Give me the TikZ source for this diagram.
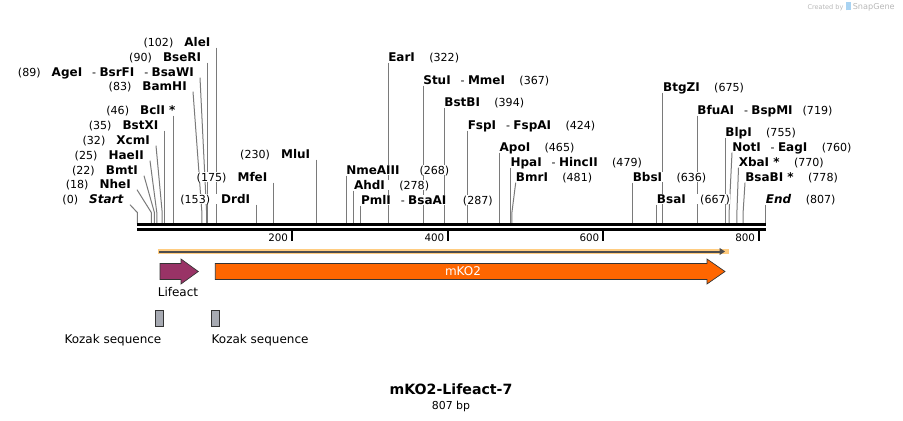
\documentclass[tikz,border=0pt]{standalone}
\usepackage{fontspec}
\setmainfont{DejaVu Sans}
\usepackage{xcolor}
\usepackage{tikz}
\usetikzlibrary{arrows.meta, positioning, backgrounds}
\definecolor{cutgray}{HTML}{7A7A7A}
\definecolor{lifeactpurple}{HTML}{993366}
\definecolor{mkoorange}{HTML}{FF6600}
\definecolor{glow}{HTML}{FFCC80}
\definecolor{dirgray}{HTML}{4D4D4D}
\definecolor{kozakgray}{HTML}{A7AAB2}
\definecolor{credgray}{HTML}{B8B8B8}
\definecolor{credblue}{HTML}{A9D3F2}
\newcommand{\enz}[1]{{\fontsize{9}{10}\selectfont\bfseries #1}}
\newcommand{\cutsep}{\hspace{0.9em}-\hspace{0.3em}}
\tikzstyle{sitelbl} = [font=\fontsize{8.3}{10}\selectfont, inner sep=0pt, text height=6.5pt, text depth=1pt, fill=white]
\tikzstyle{leftlbl} = [sitelbl, inner xsep=4.5pt, anchor=south east]
\tikzstyle{rightlbl} = [sitelbl, anchor=south west]
\tikzstyle{cutline} = [cutgray, line width=0.75pt]
\tikzstyle{strand} = [black, line width=2pt]
\tikzstyle{rulertick} = [black, line width=1.5pt]
\tikzstyle{ticklbl} = [font=\fontsize{7.75}{9}\selectfont, anchor=east, inner xsep=2.8pt, inner ysep=0pt]
\tikzstyle{featlbl} = [font=\fontsize{9}{11}\selectfont, inner sep=0pt]
\tikzstyle{featarrow} = [draw=black!80, line width=0.5pt]
\tikzstyle{kozakbox} = [rectangle, draw=black!80, fill=kozakgray, line width=0.5pt,
  minimum width=5.7pt, minimum height=12pt, inner sep=0pt]

\begin{document}
\begin{tikzpicture}[x=0.75pt, y=-0.75pt]
  \useasboundingbox (0,0) rectangle (903,421);

  % Credit
  \node (credit) [anchor=east, text=credgray, inner sep=0pt] at (895,7)
    {{\fontsize{4.9}{6}\selectfont Created by}\hspace{2pt}\textcolor{credblue}{\rule[-0.5pt]{3.5pt}{6pt}}\hspace{1.5pt}{\fontsize{6.1}{7}\selectfont SnapGene}};

  % Backbone (both strands)
  \coordinate (bbL) at (137.3,224.7);
  \coordinate (bbR) at (765.7,224.7);
  \draw[strand] (bbL) -- (bbR);
  \draw[strand] ([yshift=-3.45pt]bbL) -- ([yshift=-3.45pt]bbR);

  % Ruler
  \coordinate (t200) at (292,231);
  \coordinate (t400) at (448.3,231);
  \coordinate (t600) at (603.3,231);
  \coordinate (t800) at (759,231);
  \draw[rulertick] (t200) -- ++(0,10);
  \draw[rulertick] (t400) -- ++(0,10);
  \draw[rulertick] (t600) -- ++(0,10);
  \draw[rulertick] (t800) -- ++(0,10);
  \node (l200) [ticklbl] at ([yshift=-4.8pt]t200) {200};
  \node (l400) [ticklbl] at ([yshift=-4.8pt]t400) {400};
  \node (l600) [ticklbl] at ([yshift=-4.8pt]t600) {600};
  \node (l800) [ticklbl] at ([yshift=-4.8pt]t800) {800};

  % Cut sites on the top strand
  \coordinate (cStart) at (137.3,223.5);
  \coordinate (cNheI) at (151.3,223.5);
  \coordinate (cBmtI) at (154.4,223.5);
  \coordinate (cHaeII) at (156.8,223.5);
  \coordinate (cXcmI) at (162.2,223.5);
  \coordinate (cBstXI) at (164.6,223.5);
  \coordinate (cBclI) at (173.1,223.5);
  \coordinate (cBamHI) at (201.9,223.5);
  \coordinate (cAgeI) at (206.6,223.5);
  \coordinate (cBseRI) at (207.4,223.5);
  \coordinate (cAleI) at (216.7,223.5);
  \coordinate (cDrdI) at (256.4,223.5);
  \coordinate (cMfeI) at (273.6,223.5);
  \coordinate (cMluI) at (316.4,223.5);
  \coordinate (cNmeAIII) at (346,223.5);
  \coordinate (cAhdI) at (353.8,223.5);
  \coordinate (cPmlI) at (360.8,223.5);
  \coordinate (cEarI) at (388,223.5);
  \coordinate (cStuI) at (423.1,223.5);
  \coordinate (cBstBI) at (444.1,223.5);
  \coordinate (cFspI) at (467.5,223.5);
  \coordinate (cApoI) at (499.4,223.5);
  \coordinate (cHpaI) at (510.3,223.5);
  \coordinate (cBmrI) at (511.9,223.5);
  \coordinate (cBbsI) at (632.5,223.5);
  \coordinate (cBsaI) at (656.7,223.5);
  \coordinate (cBtgZI) at (662.9,223.5);
  \coordinate (cBfuAI) at (697.2,223.5);
  \coordinate (cBlpI) at (725.2,223.5);
  \coordinate (cNotI) at (729.1,223.5);
  \coordinate (cXbaI) at (736.9,223.5);
  \coordinate (cBsaBI) at (743.1,223.5);
  \coordinate (cEnd) at (765.7,223.5);

  % Left hand labels
  \node (AleI) [leftlbl] at (216.7,47.7) {(102)\quad\enz{AleI}};
  \node (BseRI) [leftlbl] at (207.4,62.7) {(90)\quad\enz{BseRI}};
  \node (AgeI) [leftlbl] at (200,77.7) {(89)\quad\enz{AgeI}\cutsep\enz{BsrFI}\cutsep\enz{BsaWI}};
  \node (BamHI) [leftlbl] at (193,91.7) {(83)\quad\enz{BamHI}};
  \node (BclI) [leftlbl] at (181.7,115.7) {(46)\quad\enz{BclI *}};
  \node (BstXI) [leftlbl] at (164.6,130.7) {(35)\quad\enz{BstXI}};
  \node (XcmI) [leftlbl] at (156,145.7) {(32)\quad\enz{XcmI}};
  \node (HaeII) [leftlbl] at (150,160.7) {(25)\quad\enz{HaeII}};
  \node (BmtI) [leftlbl] at (144,175.7) {(22)\quad\enz{BmtI}};
  \node (NheI) [leftlbl] at (137,189.7) {(18)\quad\enz{NheI}};
  \node (Start) [leftlbl] at (130,204.7) {(0)\quad\textit{\enz{Start}}};
  \node (DrdI) [leftlbl] at (256.4,204.7) {(153)\quad\enz{DrdI}};
  \node (MfeI) [leftlbl] at (273.6,182.7) {(175)\quad\enz{MfeI}};
  \node (MluI) [leftlbl] at (316.4,159.7) {(230)\quad\enz{MluI}};

  % Right hand labels
  \node (NmeAIII) [rightlbl] at (346,175.7) {\enz{NmeAIII}\hspace{1.8em}(268)};
  \node (AhdI) [rightlbl] at (353.8,190.7) {\enz{AhdI}\hspace{1.3em}(278)};
  \node (PmlI) [rightlbl] at (360.8,205.7) {\enz{PmlI}\cutsep\enz{BsaAI}\hspace{1.5em}(287)};
  \node (EarI) [rightlbl] at (388,62.7) {\enz{EarI}\hspace{1.3em}(322)};
  \node (StuI) [rightlbl] at (423.1,85.7) {\enz{StuI}\cutsep\enz{MmeI}\hspace{1.3em}(367)};
  \node (BstBI) [rightlbl] at (444.1,107.7) {\enz{BstBI}\hspace{1.3em}(394)};
  \node (FspI) [rightlbl] at (467.5,130.7) {\enz{FspI}\cutsep\enz{FspAI}\hspace{1.3em}(424)};
  \node (ApoI) [rightlbl] at (499.4,152.7) {\enz{ApoI}\hspace{1.3em}(465)};
  \node (HpaI) [rightlbl] at (510.3,167.7) {\enz{HpaI}\cutsep\enz{HincII}\hspace{1.3em}(479)};
  \node (BmrI) [rightlbl] at (515.7,182.7) {\enz{BmrI}\hspace{1.3em}(481)};
  \node (BbsI) [rightlbl] at (632.5,182.7) {\enz{BbsI}\hspace{1.3em}(636)};
  \node (BsaI) [rightlbl] at (656.7,204.7) {\enz{BsaI}\hspace{1.3em}(667)};
  \node (BtgZI) [rightlbl] at (662.9,92.7) {\enz{BtgZI}\hspace{1.3em}(675)};
  \node (BfuAI) [rightlbl] at (697.2,115.7) {\enz{BfuAI}\cutsep\enz{BspMI}\hspace{0.9em}(719)};
  \node (BlpI) [rightlbl] at (725.2,137.7) {\enz{BlpI}\hspace{1.3em}(755)};
  \node (NotI) [rightlbl] at (732,152.7) {\enz{NotI}\cutsep\enz{EagI}\hspace{1.3em}(760)};
  \node (XbaI) [rightlbl] at (738.5,167.7) {\enz{XbaI *}\hspace{1.3em}(770)};
  \node (BsaBI) [rightlbl] at (745,182.7) {\enz{BsaBI *}\hspace{1.3em}(778)};
  \node (End) [rightlbl] at (765.7,204.7) {\textit{\enz{End}}\hspace{1.3em}(807)};

  % Cut lines, behind the labels
  \begin{scope}[on background layer]
    \draw[cutline] (Start.south east) -- ([yshift=8.25pt]cStart) -- (cStart);
    \draw[cutline] (NheI.south east) -- ([yshift=8.25pt]cNheI) -- (cNheI);
    \draw[cutline] (BmtI.south east) -- ([yshift=8.25pt]cBmtI) -- (cBmtI);
    \draw[cutline] (HaeII.south east) -- ([yshift=8.25pt]cHaeII) -- (cHaeII);
    \draw[cutline] (XcmI.south east) -- ([yshift=8.25pt]cXcmI) -- (cXcmI);
    \draw[cutline] (BstXI.south east) -- (cBstXI);
    \draw[cutline] (cBclI |- BclI.south) -- (cBclI);
    \draw[cutline] (BamHI.south east) -- ([yshift=8.25pt]cBamHI) -- (cBamHI);
    \draw[cutline] (AgeI.south east) -- ([yshift=8.25pt]cAgeI) -- (cAgeI);
    \draw[cutline] (BseRI.south east) -- (cBseRI);
    \draw[cutline] (AleI.south east) -- (cAleI);
    \draw[cutline] (DrdI.south east) -- (cDrdI);
    \draw[cutline] (MfeI.south east) -- (cMfeI);
    \draw[cutline] (MluI.south east) -- (cMluI);
    \draw[cutline] (NmeAIII.south west) -- (cNmeAIII);
    \draw[cutline] (AhdI.south west) -- (cAhdI);
    \draw[cutline] (PmlI.south west) -- (cPmlI);
    \draw[cutline] (EarI.south west) -- (cEarI);
    \draw[cutline] (StuI.south west) -- (cStuI);
    \draw[cutline] (BstBI.south west) -- (cBstBI);
    \draw[cutline] (FspI.south west) -- (cFspI);
    \draw[cutline] (ApoI.south west) -- (cApoI);
    \draw[cutline] (HpaI.south west) -- (cHpaI);
    \draw[cutline] (BmrI.south west) -- ([yshift=8.25pt]cBmrI) -- (cBmrI);
    \draw[cutline] (BbsI.south west) -- (cBbsI);
    \draw[cutline] (BsaI.south west) -- (cBsaI);
    \draw[cutline] (BtgZI.south west) -- (cBtgZI);
    \draw[cutline] (BfuAI.south west) -- (cBfuAI);
    \draw[cutline] (BlpI.south west) -- (cBlpI);
    \draw[cutline] (NotI.south west) -- ([yshift=8.25pt]cNotI) -- (cNotI);
    \draw[cutline] (XbaI.south west) -- ([yshift=8.25pt]cXbaI) -- (cXbaI);
    \draw[cutline] (BsaBI.south west) -- ([yshift=8.25pt]cBsaBI) -- (cBsaBI);
    \draw[cutline] (End.south west) -- (cEnd);
  \end{scope}

  % Open reading frame
  \coordinate (orfL) at (159,251.5);
  \coordinate (orfR) at (725,251.5);
  \draw[glow, line width=4.2pt] ([xshift=-1pt]orfL) -- ([xshift=3pt]orfR);
  \draw[dirgray, line width=1.5pt, -{Triangle[length=4pt, width=5pt]}] (orfL) -- (orfR);

  % Features
  \draw[featarrow, fill=lifeactpurple] (160,263.5) -- (181,263.5) -- (181,259) -- (198.3,271.5)
    -- (181,284) -- (181,279.5) -- (160,279.5) -- cycle;
  \draw[featarrow, fill=mkoorange] (215.3,263.5) -- (707,263.5) -- (707,259) -- (725,271.5)
    -- (707,284) -- (707,279.5) -- (215.3,279.5) -- cycle;
  \node (mKO2) [featlbl, text=white] at (463,271.5) {mKO2};
  \node (Lifeact) [featlbl] at (178,292.3) {Lifeact};

  % Kozak sequences
  \node (kozak1) [kozakbox] at (159.5,318) {};
  \node (kozak2) [kozakbox] at (215.5,318) {};
  \node (kozakLbl1) [featlbl, inner xsep=1pt, below left=5.8pt and -5.7pt of kozak1] {Kozak sequence};
  \node (kozakLbl2) [featlbl, inner xsep=1pt, below right=5.8pt and -7.2pt of kozak2] {Kozak sequence};

  % Title
  \node (title) [font=\fontsize{10.6}{12}\selectfont\bfseries, inner sep=0pt] at (451,389) {mKO2-Lifeact-7};
  \node (length) [font=\fontsize{8.2}{10}\selectfont, inner sep=0pt] at (451,406) {807 bp};
\end{tikzpicture}
\end{document}
